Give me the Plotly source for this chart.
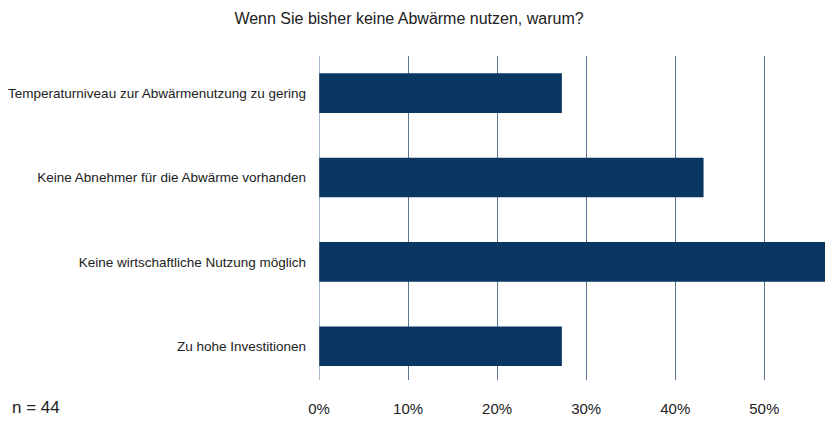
import plotly.graph_objects as go

categories = [
    "Temperaturniveau zur Abwärmenutzung zu gering",
    "Keine Abnehmer für die Abwärme vorhanden",
    "Keine wirtschaftliche Nutzung möglich",
    "Zu hohe Investitionen",
]
values = [12/44, 19/44, 25/44, 12/44]
tick_vals = [0, 0.1, 0.2, 0.3, 0.4, 0.5]
tick_text = ["0%", "10%", "20%", "30%", "40%", "50%"]
title_text = "Wenn Sie bisher keine Abwärme nutzen, warum?"
note_text = "n = 44"

L, R, T, B = 319, 15, 56, 49
PW = 840 - L - R

fig = go.Figure(go.Bar(
    x=values, y=categories, orientation="h",
    marker=dict(color="#0a3762", line=dict(width=0)),
    width=0.47,
))

fig.update_layout(
    width=840, height=429,
    margin=dict(l=L, r=R, t=T, b=B, autoexpand=False),
    paper_bgcolor="white", plot_bgcolor="white",
    font=dict(family="Liberation Sans, Arial, sans-serif", color="#222"),
    showlegend=False,
    title=dict(text=title_text, x=409/840, xanchor="center", y=1-18/429, yanchor="middle",
               font=dict(size=16, color="#222")),
    xaxis=dict(range=[0, 25/44], tickvals=tick_vals, ticktext=tick_text,
               showgrid=True, gridcolor="#5a7596", gridwidth=1, zeroline=False,
               showline=False, ticks="", ticklabelstandoff=18, automargin=False,
               tickfont=dict(size=15, color="#222")),
    yaxis=dict(categoryorder="array", categoryarray=categories,
               range=[3.40, -0.44], showgrid=False, zeroline=False, showline=False,
               ticks="", ticklabelstandoff=12, automargin=False,
               tickfont=dict(size=13.5, color="#222")),
    annotations=[dict(text=note_text, x=(10 - L)/PW, y=-(407 - (429 - B))/(429 - T - B),
                      xref="paper", yref="paper",
                      xanchor="left", yanchor="middle", showarrow=False,
                      font=dict(size=17, color="#222"))],
)
fig.add_vline(x=0, line=dict(color="#5a7596", width=1))

fig.write_html("out.html")
